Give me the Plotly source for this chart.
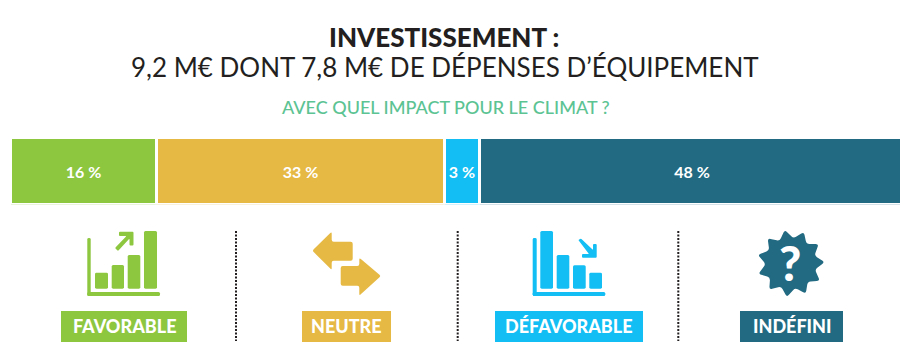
import math
import plotly.graph_objects as go

# The page body has an 8px margin, so the figure covers 8..908 x 8..364 of the window.
W, H, OFF = 900, 356, 8
# Data
segments = ["Favorable", "Neutre", "Défavorable", "Indéfini"]
bar_widths = [16.29, 32.27, 3.95, 47.49]
share_labels = ["16 %", "33 %", "3 %", "48 %"]
colors = ["#8DC63F", "#E6B944", "#12BEF4", "#216A82"]
badge_labels = ["FAVORABLE", "NEUTRE", "DÉFAVORABLE", "INDÉFINI"]

FONT = "Lato"
DARK = "#231F20"

def X(p): return (p - OFF) / W
def Y(p): return 1 - (p - OFF) / H

def poly(pts, color, r=1.5):
    """Closed polygon (window pixels) with rounded corners."""
    n = len(pts)
    d = []
    for i in range(n):
        px, py = pts[i - 1]
        cx, cy = pts[i]
        nx, ny = pts[(i + 1) % n]
        l1 = math.hypot(px - cx, py - cy) or 1
        l2 = math.hypot(nx - cx, ny - cy) or 1
        r1, r2 = min(r, l1 / 2), min(r, l2 / 2)
        a = (cx + (px - cx) * r1 / l1, cy + (py - cy) * r1 / l1)
        b = (cx + (nx - cx) * r2 / l2, cy + (ny - cy) * r2 / l2)
        d.append(("M" if i == 0 else "L") + f" {X(a[0]):.5f},{Y(a[1]):.5f}")
        d.append(f"Q {X(cx):.5f},{Y(cy):.5f} {X(b[0]):.5f},{Y(b[1]):.5f}")
    return dict(type="path", xref="paper", yref="paper", path=" ".join(d) + " Z",
                fillcolor=color, line=dict(width=0), layer="above")

def box(x0, y0, x1, y1, color, r=1.5):
    return poly([(x0, y0), (x1, y0), (x1, y1), (x0, y1)], color, r)

def label(x, y, text, size, color, weight=400):
    return dict(xref="paper", yref="paper", x=X(x), y=Y(y), text=text, showarrow=False,
                xanchor="center", yanchor="middle",
                font=dict(family=FONT, size=size, color=color, weight=weight))

fig = go.Figure()
for name, w, lab, col in zip(segments, bar_widths, share_labels, colors):
    fig.add_trace(go.Bar(
        y=["Investissement"], x=[w], name=name, orientation="h", text=[lab],
        textposition="inside", insidetextanchor="middle", textangle=0,
        textfont=dict(family=FONT, size=16, color="white", weight=700),
        marker=dict(color=col, line=dict(color="white", width=2.5)),
        showlegend=False, hoverinfo="skip"))

shapes, ann = [], []

# Dotted separators
for sx in [236, 457.7, 678.3]:
    shapes.append(dict(type="line", xref="paper", yref="paper", x0=X(sx), x1=X(sx), y0=Y(231), y1=Y(341),
                       line=dict(color=DARK, width=2, dash="2px,1.5px"), layer="above"))

# Badges
badges = [(61, 187), (302, 391), (495, 643), (740, 843)]
for (a, b), col, t in zip(badges, colors, badge_labels):
    shapes.append(box(a, 311, b, 342, col, 0))
    ann.append(label((a + b) / 2, 326, t, 18, "white", 900))

# Favorable icon
g = colors[0]
shapes.append(box(87.3, 238, 90.7, 296, g))
shapes.append(box(87.3, 292, 160, 296, g))
for a, b, top in [(95, 108, 272.7), (111.7, 124, 265), (127.7, 140.3, 255), (144, 157, 231)]:
    shapes.append(box(a, top, b, 288.7, g))
shapes.append(poly([(115, 248), (126.5, 236), (119, 236), (119, 231.7), (133.5, 231.7), (133.5, 245.5),
                    (129.5, 245.5), (129.5, 238.5), (118, 251)], g, 1))

# Neutre icon
y_ = colors[1]
shapes.append(poly([(312.3, 250.7), (331.7, 231.7), (331.7, 241.7), (352.7, 241.7), (352.7, 260.7),
                    (331.7, 260.7), (331.7, 270)], y_, 2))
shapes.append(poly([(381, 276), (359.3, 257.7), (359.3, 266), (340.7, 266), (340.7, 285.7),
                    (359.3, 285.7), (359.3, 295.7)], y_, 2))

# Défavorable icon
b_ = colors[2]
shapes.append(box(532.7, 238, 536.7, 296, b_))
shapes.append(box(532.7, 292, 605.3, 296, b_))
for a, b, top in [(540.3, 553, 231), (556.7, 569.3, 255), (573, 585.7, 265.3), (589.3, 602, 272.7)]:
    shapes.append(box(a, top, b, 288.7, b_))
shapes.append(poly([(578.3, 240), (581, 238.5), (593, 250), (593, 244), (596.7, 244), (596.7, 257.7),
                    (582, 257.7), (582, 254), (589, 254)], b_, 1))

# Indéfini icon: scalloped star
cx, cy, pts, n = 790.7, 263.3, [], 11
for i in range(2 * n):
    r = 34 if i % 2 == 0 else 25
    ang = math.radians(-100 + i * 180 / n)
    pts.append((cx + r * math.cos(ang), cy + r * math.sin(ang)))
shapes.append(poly(pts, colors[3], 3))
ann.append(label(790, 262, "?", 48, "white", 900))

# Titles
ann.append(label(443.5, 36.5, "INVESTISSEMENT :", 26, DARK, 900))
ann.append(label(445, 67, "9,2 M€ DONT 7,8 M€ DE DÉPENSES D’ÉQUIPEMENT", 26, DARK))
ann.append(label(445.5, 107, "AVEC QUEL IMPACT POUR LE CLIMAT ?", 18, "#5CC393", 500))

fig.update_layout(
    width=W, height=H, barmode="stack", bargap=0, paper_bgcolor="white", plot_bgcolor="white",
    margin=dict(l=0, r=0, t=0, b=0), showlegend=False,
    xaxis=dict(domain=[X(10.75), X(904.25)], range=[0, 100], visible=False, fixedrange=True),
    yaxis=dict(domain=[Y(204.25), Y(137.75)], visible=False, fixedrange=True),
    shapes=shapes, annotations=ann,
)
fig.write_html("out.html", config=dict(displayModeBar=False))
